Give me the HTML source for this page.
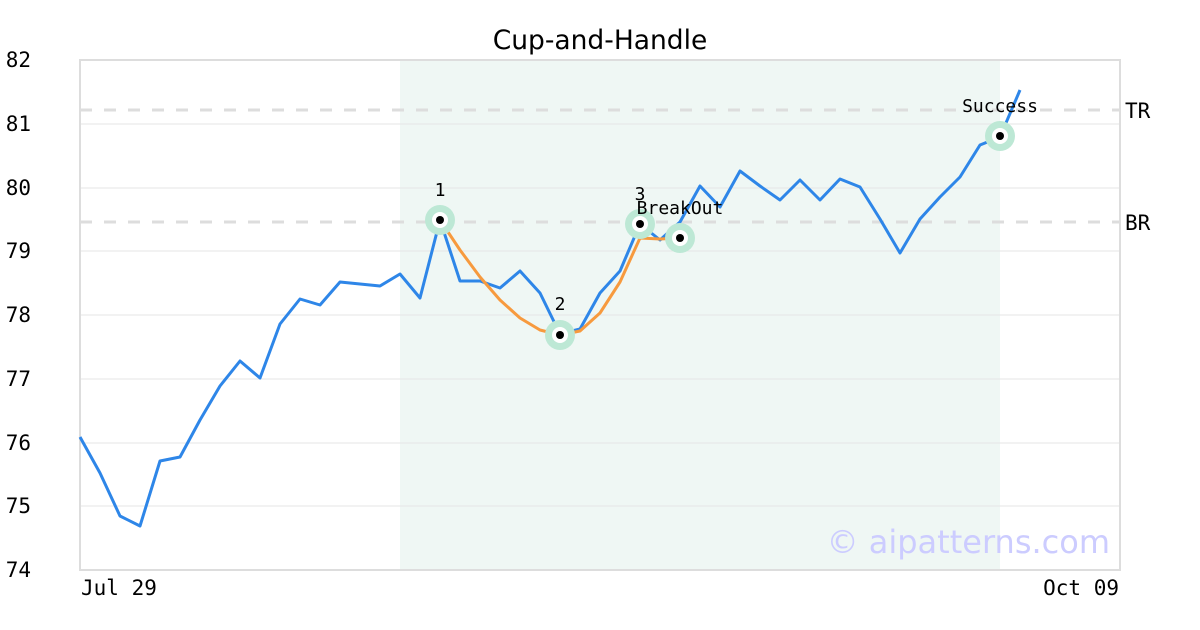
<!DOCTYPE html><html><head><style>body{margin:0;background:#fff}svg{display:block}</style></head><body>
<svg width="1200" height="630" xmlns="http://www.w3.org/2000/svg" font-family="DejaVu Sans Mono, Liberation Mono, monospace">
<rect x="400" y="60" width="600" height="510" fill="#eff7f4"/>
<g stroke="#e6e6e6" stroke-width="1">
<line x1="80" x2="1120" y1="124" y2="124"/><line x1="80" x2="1120" y1="188" y2="188"/><line x1="80" x2="1120" y1="251" y2="251"/><line x1="80" x2="1120" y1="315" y2="315"/><line x1="80" x2="1120" y1="379" y2="379"/><line x1="80" x2="1120" y1="443" y2="443"/><line x1="80" x2="1120" y1="506" y2="506"/>
</g>
<g stroke="#dddddd" stroke-width="3" stroke-dasharray="12,12"><line x1="80" x2="1120" y1="110" y2="110"/><line x1="80" x2="1120" y1="222" y2="222"/></g>
<rect x="80" y="60" width="1040" height="510" fill="none" stroke="#dddddd" stroke-width="2"/>
<polyline fill="none" stroke="#2e86e8" stroke-width="3" stroke-linejoin="round" points="80,437 100,473 120,516 140,526 160,461 180,457 200,420 220,386 240,361 260,378 280,324 300,299 320,305 340,282 360,284 380,286 400,274 420,298 440,220 460,281 480,281 500,288 520,271 540,293 560,334 580,329 600,293 620,271 640,224 660,240 680,222 700,186 720,207 740,171 760,186 780,200 800,180 820,200 840,179 860,187 880,219 900,253 920,219 940,197 960,177 980,145 1000,137 1020,90"/>
<polyline fill="none" stroke="#f79a3e" stroke-width="3" stroke-linejoin="round" points="440,220 460,250 480,277 500,300 520,318 540,330 560,335 580,331 600,313 620,282 640,238 660,239 680,238"/>
<g><g fill="#bde8d5"><circle cx="440" cy="220" r="15"/><circle cx="560" cy="335" r="15"/><circle cx="640" cy="224" r="15"/><circle cx="680" cy="238" r="15"/><circle cx="1000" cy="136" r="15"/></g>
<g fill="#fff"><circle cx="440" cy="220" r="8"/><circle cx="560" cy="335" r="8"/><circle cx="640" cy="224" r="8"/><circle cx="680" cy="238" r="8"/><circle cx="1000" cy="136" r="8"/></g>
<g fill="#000"><circle cx="440" cy="220" r="4"/><circle cx="560" cy="335" r="4"/><circle cx="640" cy="224" r="4"/><circle cx="680" cy="238" r="4"/><circle cx="1000" cy="136" r="4"/></g></g>
<g font-size="18" fill="#000" text-anchor="middle"><text x="440" y="196">1</text><text x="560" y="310">2</text><text x="640" y="200">3</text><text x="680" y="214">BreakOut</text><text x="1000" y="112">Success</text></g>
<g font-size="21" fill="#000" text-anchor="end"><text x="31" y="67">82</text><text x="31" y="131">81</text><text x="31" y="195">80</text><text x="31" y="258">79</text><text x="31" y="322">78</text><text x="31" y="386">77</text><text x="31" y="450">76</text><text x="31" y="513">75</text><text x="31" y="577">74</text></g>
<g font-size="21" fill="#000"><text x="1125" y="118">TR</text><text x="1125" y="230">BR</text><text x="81" y="595">Jul 29</text><text x="1119" y="595" text-anchor="end">Oct 09</text></g>
<text x="600" y="49" text-anchor="middle" font-family="DejaVu Sans, Liberation Sans, sans-serif" font-size="26.5">Cup-and-Handle</text>
<text x="1110" y="553" text-anchor="end" font-family="DejaVu Sans, Liberation Sans, sans-serif" font-size="32" fill="#ccccff">© aipatterns.com</text>
</svg></body></html>
